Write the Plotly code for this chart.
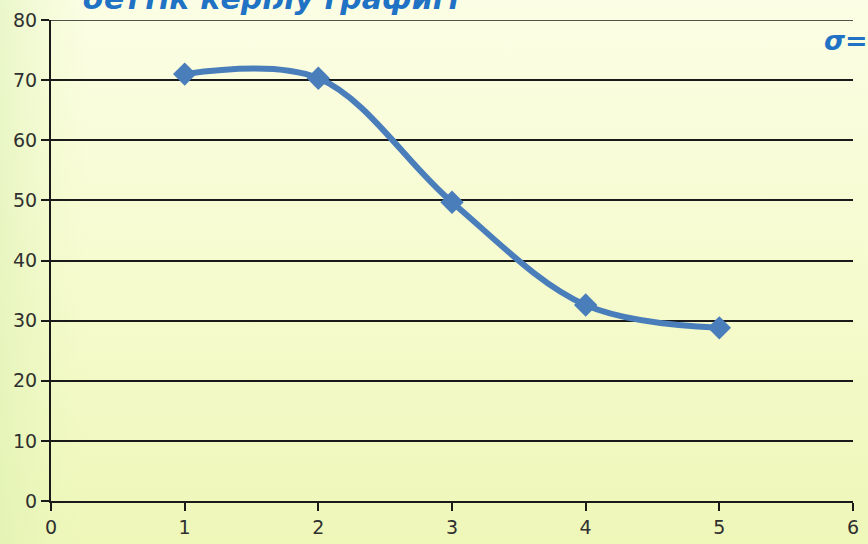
import base64
import plotly.graph_objects as go

x_vals = [1, 2, 3, 4, 5]
y_vals = [71.0, 70.3, 49.7, 32.6, 28.8]
title_text = "беттік керілу графигі"
sigma_text = "σ="

svg = """<svg xmlns='http://www.w3.org/2000/svg' width='868' height='544' preserveAspectRatio='none'>
<defs>
<linearGradient id='g' x1='0' y1='0' x2='0' y2='1'>
<stop offset='0' stop-color='#fbfee4'/>
<stop offset='0.5' stop-color='#f6fbcf'/>
<stop offset='1' stop-color='#eef7b8'/>
</linearGradient>
<linearGradient id='h' x1='0' y1='0' x2='1' y2='0'>
<stop offset='0' stop-color='#d9f0b0' stop-opacity='0.5'/>
<stop offset='0.1' stop-color='#eaf6c0' stop-opacity='0'/>
<stop offset='1' stop-color='#ffffff' stop-opacity='0'/>
</linearGradient>
</defs>
<rect width='868' height='544' fill='url(#g)'/>
<rect width='868' height='544' fill='url(#h)'/>
</svg>"""
bg_uri = "data:image/svg+xml;base64," + base64.b64encode(svg.encode()).decode()

fig = go.Figure()
fig.add_trace(go.Scatter(
    x=x_vals, y=y_vals, mode="lines+markers",
    line=dict(color="#4a7ebb", width=6, shape="spline", smoothing=1.0),
    marker=dict(symbol="diamond", size=18, color="#4a7ebb"),
    showlegend=False, hoverinfo="skip",
))

tick_font = dict(family="DejaVu Sans", size=19, color="#303030")
fig.update_layout(
    width=868, height=544, autosize=False,
    margin=dict(l=51, r=15, t=20, b=43, autoexpand=False),
    paper_bgcolor="rgba(0,0,0,0)",
    plot_bgcolor="rgba(0,0,0,0)",
    images=[dict(source=bg_uri, xref="paper", yref="paper", x=-51/802, y=(481+20)/481,
                 sizex=868/802, sizey=544/481, sizing="stretch", layer="below",
                 xanchor="left", yanchor="top")],
    xaxis=dict(range=[0, 6], tickvals=[0, 1, 2, 3, 4, 5, 6], showgrid=False, zeroline=False,
               showline=True, linecolor="#1a1a1a", linewidth=2, automargin=False,
               ticks="outside", ticklen=8, tickcolor="#1a1a1a", tickwidth=1.5,
               tickfont=tick_font),
    yaxis=dict(range=[0, 80], tickvals=list(range(0, 81, 10)), showgrid=True, gridcolor="#1a1a1a",
               gridwidth=1.5, zeroline=False, showline=True, linecolor="#1a1a1a", linewidth=2,
               automargin=False,
               ticks="outside", ticklen=8, tickcolor="#1a1a1a", tickwidth=1.5,
               tickfont=tick_font),
    annotations=[
        dict(text="<b><i>" + title_text + "</i></b>", xref="paper", yref="paper",
             x=30/802, y=(501 + 2)/481, xanchor="left", yanchor="middle", showarrow=False,
             font=dict(family="DejaVu Sans", size=30, color="#1f72c4")),
        dict(text="<b><i>" + sigma_text + "</i></b>", xref="paper", yref="paper",
             x=(822-51)/802, y=(501-40)/481, xanchor="left", yanchor="middle", showarrow=False,
             font=dict(family="DejaVu Sans", size=27, color="#1f72c4")),
    ],
)
fig.add_shape(type="line", xref="paper", yref="y", x0=0, x1=1, y0=80, y1=80,
              line=dict(color="#1a1a1a", width=1.5))

fig.write_html("out.html", config={"displayModeBar": False, "responsive": False},
               post_script="document.body.style.margin='0';document.body.style.overflow='hidden';")
